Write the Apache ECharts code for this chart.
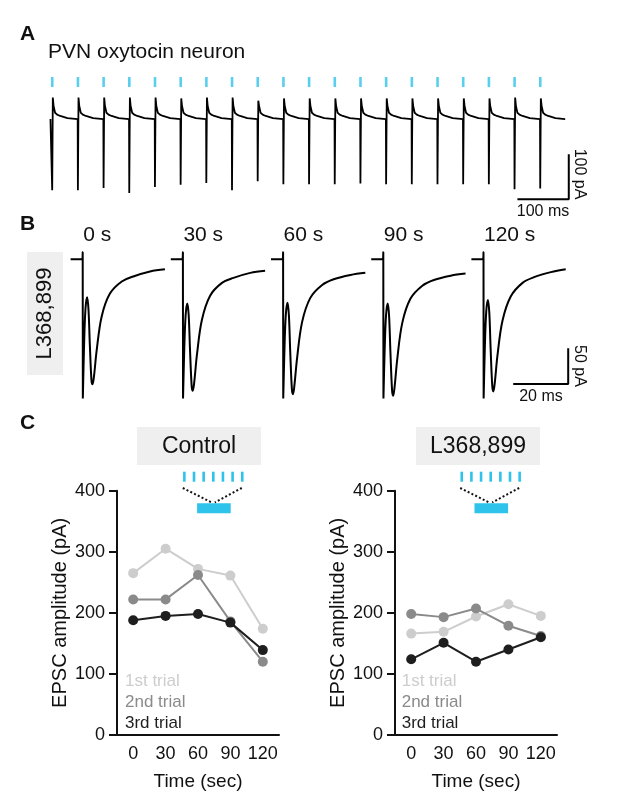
<!DOCTYPE html>
<html><head><meta charset="utf-8">
<script src="https://cdn.jsdelivr.net/npm/echarts@6/dist/echarts.min.js"></script>
<style>html,body{margin:0;padding:0;background:#fff}#c{width:617px;height:809px}</style>
</head><body><div id="c"></div>
<script>
const FONT = '"Liberation Sans", Arial, Helvetica, sans-serif';
const CYAN = '#2ec3ea';

// ---------- Panel A: 20 Hz train (ms, pA) ----------
const stimTimesA = [0,50,100,150,200,250,300,350,400,450,500,550,600,650,700,750,800,850,900,950];
const spikeDepthA = [162,162,157,168,155,150,146,162,142,149,149,149,147,149,149,149,149,149,160,158];
const spikePeakA  = [44,44,44,44,44,42,44,44,37,42,42,42,42,42,42,42,42,42,44,42];
const tailT_A = [3,6,10,16,30];
const tailV_A = [26,10,6,3,-2];
const baseA = -4;
const traceStartA = -3, traceEndA = 999;

// ---------- Panel B: EPSCs (ms, pA) ----------
const epscLabels = ['0 s','30 s','60 s','90 s','120 s'];
const epscT = [-4.4,-0.2,0,0.05,0.5,1.0,1.6,2.1,2.6,3.2,3.6,4.1,5.1,6.9,9.9,14.2,18.4,24.5,29.9];
const epsc0s   = [0,0,10,-195,-120,-70,-53,-70,-120,-170,-175,-164,-127,-80,-48,-31,-24,-17,-14];
const epsc30s  = [0,0,10,-195,-125,-78,-62,-78,-128,-178,-184,-173,-134,-85,-51,-33,-26,-19,-16];
const epsc60s  = [0,0,10,-195,-125,-77,-61,-78,-130,-182,-189,-177,-138,-88,-54,-36,-28,-22,-19];
const epsc90s  = [0,0,10,-195,-126,-78,-62,-79,-131,-184,-191,-179,-139,-89,-55,-37,-29,-23,-20];
const epsc120s = [0,0,10,-195,-122,-73,-57,-74,-126,-178,-185,-173,-134,-86,-52,-33,-25,-18,-14];

// ---------- Panel C: EPSC amplitude (pA) ----------
const timeCats = ['0','30','60','90','120'];
const ctrl1st = [265,305,272,261,174];
const ctrl2nd = [222,222,262,186,120];
const ctrl3rd = [188,195,198,184,139];
const lx1st = [166,169,194,214,195];
const lx2nd = [198,193,207,179,162];
const lx3rd = [124,151,120,140,160];
const trialNames = ['1st trial','2nd trial','3rd trial'];
const trialColors = ['#cdcdcd','#8a8a8a','#1e1e1e'];

// ---------- build A trace ----------
const traceA = [[traceStartA, baseA]];
stimTimesA.forEach((t0,i)=>{
  traceA.push([t0, baseA]);
  traceA.push([t0+0.4, -spikeDepthA[i]]);
  traceA.push([t0+1.6, spikePeakA[i]]);
  tailT_A.forEach((dt,j)=>traceA.push([t0+dt, tailV_A[j]]));
});
traceA.push([traceEndA, baseA]);

const chart = echarts.init(document.getElementById('c'), null, {renderer:'canvas'});

// layout
const A = {pxPerMs:0.5137, pxPerPa:0.45, x0:52, y0:117.3, xmin:-10, xmax:1020, ymin:-195, ymax:95};
const B = {pxPerMs:2.75, pxPerPa:0.714, y0:259.3, xmin:-5, xmax:32, ymin:-197, ymax:20,
           art:[82.7,182.9,283.1,383.3,483.5]};

const grids = [], xAxes = [], yAxes = [], series = [];
function hiddenAxes(xmin,xmax,ymin,ymax){
  const gi = grids.length - 1;
  xAxes.push({gridIndex:gi,type:'value',min:xmin,max:xmax,show:false});
  yAxes.push({gridIndex:gi,type:'value',min:ymin,max:ymax,show:false});
  return gi;
}
grids.push({left:A.x0 + A.xmin*A.pxPerMs, top:A.y0 - A.ymax*A.pxPerPa,
  width:(A.xmax-A.xmin)*A.pxPerMs, height:(A.ymax-A.ymin)*A.pxPerPa});
const gA = hiddenAxes(A.xmin,A.xmax,A.ymin,A.ymax);
series.push({type:'line',xAxisIndex:gA,yAxisIndex:gA,data:traceA,showSymbol:false,
  lineStyle:{color:'#000',width:1.8},clip:false,silent:true,animation:false});
series.push({type:'scatter',xAxisIndex:gA,yAxisIndex:gA,data:stimTimesA.map(t=>[t+0.5,78.4]),
  symbol:'rect',symbolSize:[2.6,10],itemStyle:{color:CYAN},silent:true,animation:false});
// A scale bar 100 ms / 100 pA
series.push({type:'line',xAxisIndex:gA,yAxisIndex:gA,data:[[906,-182],[1006,-182],[1006,-82]],
  showSymbol:false,lineStyle:{color:'#000',width:2},clip:false,silent:true,animation:false});

const epscSets = [epsc0s,epsc30s,epsc60s,epsc90s,epsc120s];
const bGrid = [];
epscSets.forEach((vals,k)=>{
  grids.push({left:B.art[k] + B.xmin*B.pxPerMs, top:B.y0 - B.ymax*B.pxPerPa,
    width:(B.xmax-B.xmin)*B.pxPerMs, height:(B.ymax-B.ymin)*B.pxPerPa});
  const g = hiddenAxes(B.xmin,B.xmax,B.ymin,B.ymax);
  bGrid.push(g);
  series.push({type:'line',xAxisIndex:g,yAxisIndex:g,data:epscT.map((t,i)=>[t,vals[i]]),
    showSymbol:false,smooth:0.35,lineStyle:{color:'#000',width:2},clip:false,silent:true,animation:false});
});
// B scale bar 20 ms / 50 pA
series.push({type:'line',xAxisIndex:bGrid[4],yAxisIndex:bGrid[4],data:[[10.8,-174.6],[30.8,-174.6],[30.8,-124.6]],
  showSymbol:false,lineStyle:{color:'#000',width:2},clip:false,silent:true,animation:false});

// Panel C grids
const cLeft = [117,395];
const cData = [[ctrl1st,ctrl2nd,ctrl3rd],[lx1st,lx2nd,lx3rd]];
cLeft.forEach((lft,c)=>{
  grids.push({left:lft, top:490.7, width:162, height:244.3});
  const gi = grids.length-1;
  xAxes.push({gridIndex:gi,type:'category',data:timeCats,boundaryGap:true,
    axisLine:{lineStyle:{color:'#111',width:2}},
    axisTick:{alignWithLabel:true,length:7,lineStyle:{color:'#111',width:2}},
    axisLabel:{color:'#111',fontSize:18,fontFamily:FONT,margin:10,interval:0},
    name:'Time (sec)',nameLocation:'middle',nameGap:37,
    nameTextStyle:{color:'#111',fontSize:19,fontFamily:FONT}});
  yAxes.push({gridIndex:gi,type:'value',min:0,max:400,interval:100,
    axisLine:{show:true,lineStyle:{color:'#111',width:2}},
    axisTick:{show:true,length:8,lineStyle:{color:'#111',width:2}},
    splitLine:{show:false},
    axisLabel:{color:'#111',fontSize:18,fontFamily:FONT,margin:12},
    name:'EPSC amplitude (pA)',nameLocation:'middle',nameGap:47,
    nameTextStyle:{color:'#111',fontSize:20,fontFamily:FONT}});
  cData[c].forEach((vals,s)=>{
    series.push({type:'line',name:trialNames[s],xAxisIndex:gi,yAxisIndex:gi,data:vals,
      symbol:'circle',symbolSize:10,showAllSymbol:true,
      lineStyle:{color:trialColors[s],width:2},itemStyle:{color:trialColors[s]},
      silent:true,animation:false,z:3+s});
  });
});

// ---------- graphics (text & pictograms) ----------
const gfx = [];
function txt(text,x,y,o){
  o = o||{};
  gfx.push({type:'text',x:x,y:y,rotation:o.rot||0,z:10,silent:true,
    style:{text:text,x:0,y:0,fill:o.color||'#111',
      font:(o.bold?'bold ':'')+(o.size||18)+'px '+FONT,
      align:o.align||'left',verticalAlign:'middle'}});
}
txt('A',20,34,{bold:true,size:21});
txt('B',20,224,{bold:true,size:21});
txt('C',20,423,{bold:true,size:21});
txt('PVN oxytocin neuron',48,52,{size:21});
txt('100 pA',579,174,{size:16,rot:-Math.PI/2,align:'center'});
txt('100 ms',543,212,{size:16,align:'center'});
epscLabels.forEach((l,k)=>txt(l,B.art[k]+0.5,235,{size:21}));
gfx.push({type:'rect',shape:{x:27,y:252,width:36,height:123},style:{fill:'#efeff0'},z:1,silent:true});
txt('L368,899',45,313.5,{size:22,rot:Math.PI/2,align:'center'});
txt('50 pA',579,366,{size:16,rot:-Math.PI/2,align:'center'});
txt('20 ms',541,397,{size:16,align:'center'});

// C boxes + pictograms
const boxes = [{x:137,label:'Control',cx:213.3},{x:416,label:'L368,899',cx:490.7}];
boxes.forEach(b=>{
  gfx.push({type:'rect',shape:{x:b.x,y:427,width:124,height:38},style:{fill:'#efeff0'},z:1,silent:true});
  txt(b.label,b.x+62,446.5,{size:23,align:'center'});
  for(let i=0;i<7;i++){
    const xx = b.cx + (i-3)*9.65;
    gfx.push({type:'line',shape:{x1:xx,y1:471.7,x2:xx,y2:481.7},style:{stroke:CYAN,lineWidth:2.6},z:5,silent:true});
  }
  gfx.push({type:'line',shape:{x1:b.cx-30.5,y1:488,x2:b.cx-1.5,y2:502.5},style:{stroke:'#111',lineWidth:2,lineDash:[2,2.2]},z:5,silent:true});
  gfx.push({type:'line',shape:{x1:b.cx+28.5,y1:488,x2:b.cx+1.5,y2:502.5},style:{stroke:'#111',lineWidth:2,lineDash:[2,2.2]},z:5,silent:true});
  gfx.push({type:'rect',shape:{x:b.cx-16.2,y:503.3,width:33.6,height:10},style:{fill:CYAN},z:5,silent:true});
});
// trial legends
[125,401.7].forEach(lx=>{
  const ys=[681.7,702.7,723.3];
  trialNames.forEach((n,s)=>txt(n,lx,ys[s],{size:17,color:trialColors[s]}));
});

chart.setOption({
  animation:false,
  backgroundColor:'#fff',
  grid:grids, xAxis:xAxes, yAxis:yAxes, series:series, graphic:gfx
});
</script></body></html>
